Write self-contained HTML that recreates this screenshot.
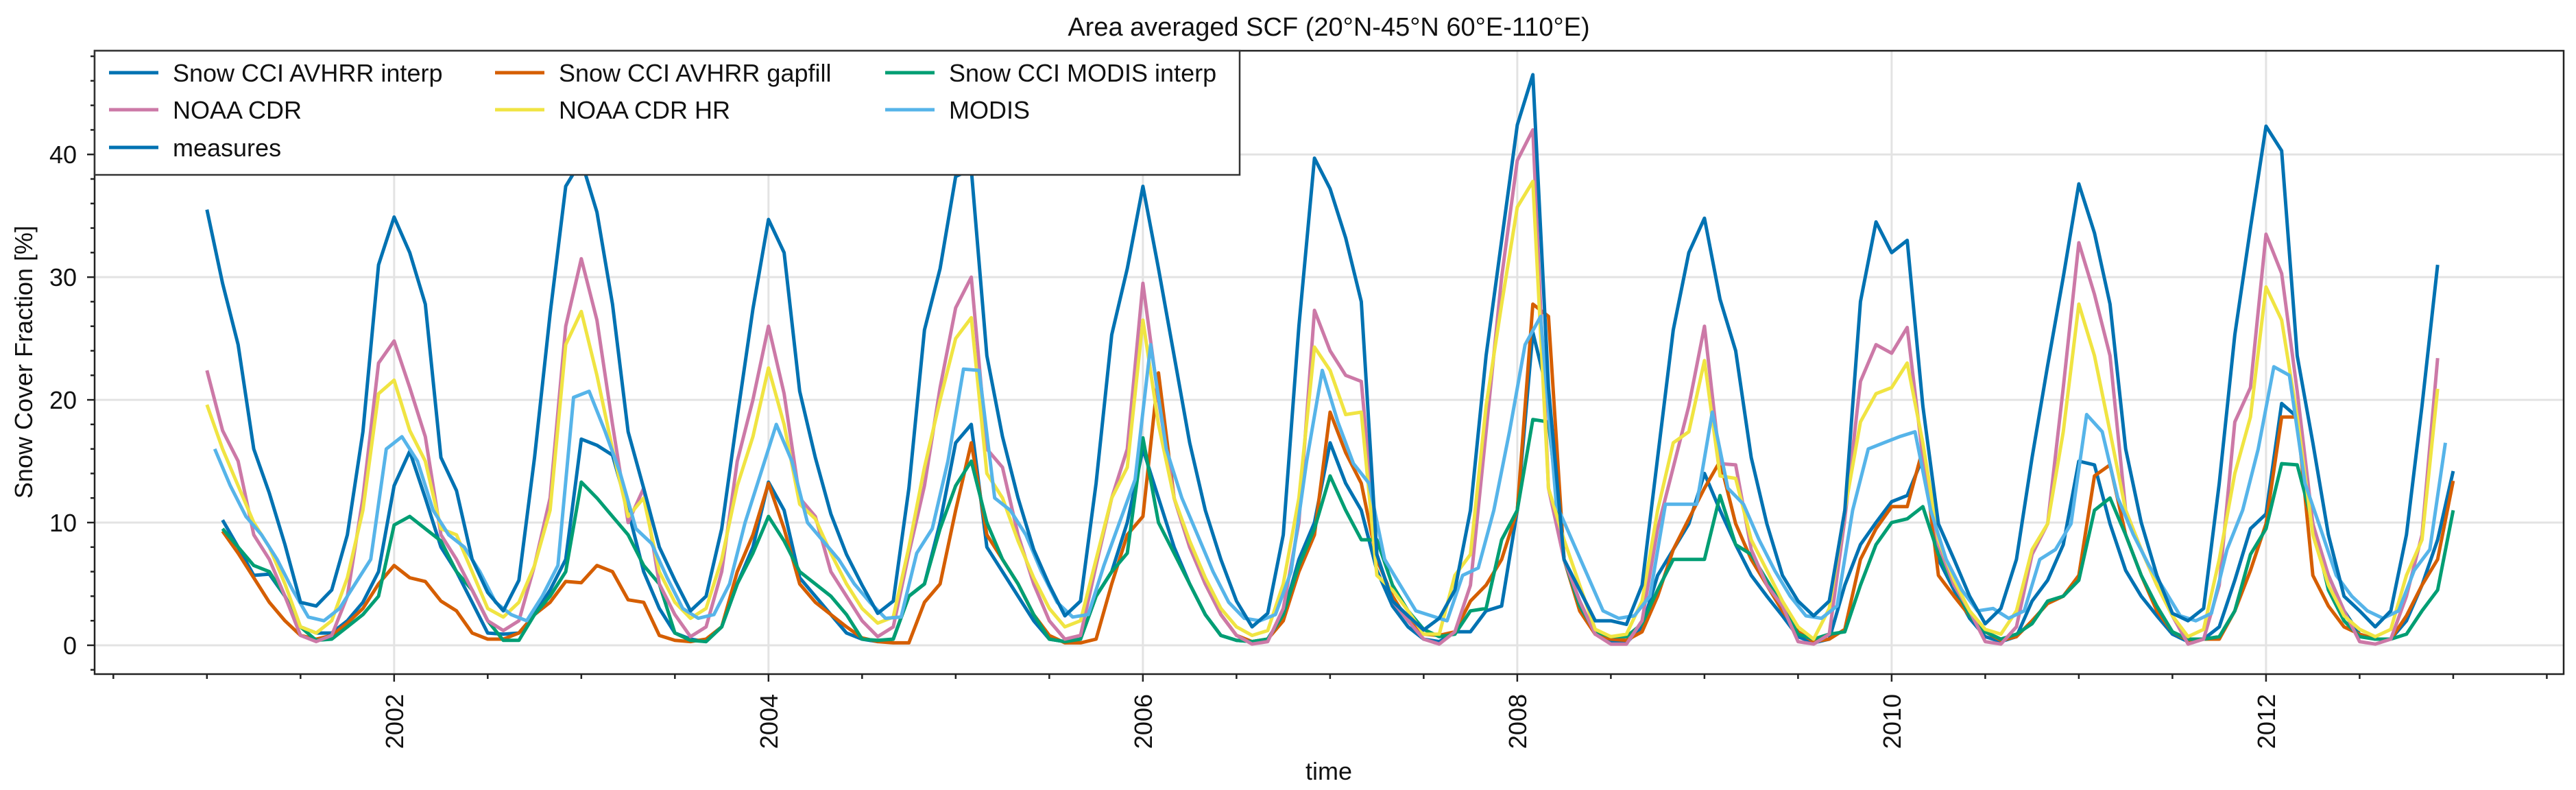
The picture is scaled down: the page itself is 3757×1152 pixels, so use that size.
<!DOCTYPE html>
<html><head><meta charset="utf-8"><style>
html,body{margin:0;padding:0;background:#fff}
svg{display:block;font-family:"Liberation Sans",sans-serif}
</style></head><body>
<svg id="chart" width="3757" height="1152" viewBox="0 0 3757 1152" xmlns="http://www.w3.org/2000/svg">
<rect width="3757" height="1152" fill="#fff"/>
<g id="grid"></g><g id="series"></g><g id="axes"></g><g id="legend"></g>
</svg>
<script>
const startYear = 2001;
const measures = [35.5,29.5,24.5,16,12.4,8.2,3.5,3.2,4.5,9,17.4,31,34.9,32,27.8,15.3,12.6,7,4.3,2.8,5.3,15.3,27,37.4,39.5,35.3,27.8,17.4,12.8,8,5.3,2.8,4,9.5,18.6,27.4,34.7,32,20.7,15.3,10.7,7.4,4.9,2.6,3.6,12.8,25.7,30.7,38.2,38.8,23.6,17,12,7.8,4.9,2.4,3.6,13.2,25.3,30.7,37.4,30.7,23.6,16.5,11,7,3.6,1.5,2.6,9,26,39.7,37.2,33.2,28,7.4,3.6,2.4,1.25,2.2,4.5,11,23.6,33,42.4,46.5,21,7,4.5,2,2,1.7,4.9,15.3,25.7,32,34.8,28.2,24,15.3,9.9,5.7,3.6,2.4,3.6,11,28,34.5,32,33,19.5,9.9,7,4,1.75,3,7,15.3,22.8,30,37.6,33.6,27.8,16,10,5.7,2.6,2,3,13.2,25.3,34,42.3,40.3,23.6,16.5,9,4,2.8,1.5,2.8,9,19.5,31];
const noaaCdr = [22.4,17.5,15,9,7,4,0.8,0.3,0.8,4,12,23,24.8,21,17,9,7,4.5,2,1.2,2,6.5,12,26,31.5,26.5,18,10,12.8,5,2.5,0.7,1.5,6,15,20,26,20.5,12,10.5,6,4,2,0.7,1.5,7.5,13,21,27.5,30,16,14.5,9,5,2,0.5,0.8,6.5,12,16,29.5,20,12,8,5,2.5,0.8,0.1,0.3,3,10,27.3,24,22,21.5,7.4,3.6,2,0.5,0.1,1.1,4.9,17.4,30,39.5,42,12.8,7,3.6,0.9,0.1,0.1,2,9.5,14.5,19.5,26,14.8,14.7,7.8,4.9,3.2,0.3,0.1,0.9,10.3,21.5,24.5,23.8,25.9,15.3,8.2,4.9,2.8,0.3,0.1,1.5,7.4,9.9,21,32.8,28.6,23.6,11,7.8,4.9,2.4,0.1,0.5,4.9,18.2,21,33.5,30.3,20.7,9.9,5.7,2.8,0.3,0.1,0.5,4,9,23.4];
const noaaCdrHr = [19.6,16,13,10,8,5,1.5,1,2,5.5,11,20.5,21.6,17.5,15,9.5,9,6,3,2.3,3.5,6.5,11,24.5,27.2,22,16,10.5,12,6,3.5,2.2,3,7,13,17,22.6,18,11.5,10.3,7.5,5,3,1.8,2.3,8,14.5,20,25,26.7,14,12,8.5,5.5,3,1.5,2,7,12,14.5,26.5,18,12,8.5,5.5,3,1.5,0.8,1.2,5,12,24.3,22.4,18.8,19,5.7,4.5,2.8,0.9,0.9,5.7,7.4,19.5,27.8,35.7,37.8,12.8,8.6,4.9,1.3,0.7,0.9,3.6,11,16.5,17.4,23.2,13.8,13.6,8.6,6.1,3.6,1.5,0.5,3,11,18.2,20.5,21,23,16.5,8.6,5.3,2.8,1.3,0.9,2.8,7.8,9.9,17.4,27.8,23.6,17.4,11,7.8,4.9,2.4,0.7,1.3,7,14,18.6,29.2,26.5,18.6,9,4.9,2.4,1.3,0.7,1.3,5.7,8.6,20.9];
const modis = [16,13,10.5,9,7,4.5,2.3,2,3,5,7,16,17,15,11,9,8,6,3.5,2.5,2,4,6.5,20.2,20.7,17.5,14,9.5,8.3,5.5,3,2.2,2.5,5,10,14,18,15,10,8.5,7,5,3.5,2.2,2.3,7.5,9.5,15,22.5,22.4,12,11,9,6,3.5,2.3,2.5,6.5,10,13.5,24.5,16,12,9,6,3.5,2.2,2,2.5,6,15,22.4,18.2,14.8,13.2,7,4.9,2.8,2.4,2,5.7,6.3,11,17.4,24.5,26.8,11.5,8.6,5.7,2.8,2.2,2.4,4,11.5,11.5,11.5,19,12.8,11.5,8.6,6.1,4,2.4,2.2,3.2,11,16,16.5,17,17.4,11,7,4.5,2.8,3,2.2,2.8,7,7.8,9.9,18.8,17.4,12,9,6.5,4.5,2.4,2,2.6,7.8,11,16,22.7,22,13.2,9.5,5.7,4,2.8,2.2,2.8,6.1,7.8,16.5];
const cciAvhrrInterp = [10.2,8,5.7,5.8,4,1.5,1,1,2,3.5,6,13,15.8,12,8,6,3.5,1,0.9,1,2.5,4.5,7,16.8,16.3,15.5,11,6,3,1,0.5,0.3,1.5,5,8,13.3,11,5.5,4,2.5,1,0.5,0.3,0.5,4,5,10,16.5,18,8,6,4,2,0.5,0.3,0.5,4,6,10,16,12,8,5,2.5,0.8,0.4,0.3,0.5,2.5,7,10,16.5,13.2,11,6.1,3.2,1.5,0.5,0.3,1.1,1.1,2.8,3.2,11,25.5,20.3,7,3.6,0.9,0.3,0.2,1.5,5.7,7.8,9.9,14,11,8.2,5.7,4,2.4,0.7,0.2,0.5,4.9,8.2,10,11.7,12.2,15.3,7,4.5,2.2,0.7,0.3,0.7,3.6,5.3,8.2,15,14.7,9.9,6.1,4,2.4,0.9,0.3,0.5,1.5,5.3,9.5,10.7,19.7,18.6,9.5,5.7,2.8,0.9,0.5,0.5,2,4.9,8.6,14.2];
const cciAvhrrGapfill = [9.3,7.5,5.5,3.5,2,0.8,0.5,0.8,1.8,3,5,6.5,5.5,5.2,3.6,2.8,1,0.5,0.5,1,2.5,3.5,5.2,5.1,6.5,6,3.7,3.5,0.8,0.4,0.3,0.5,1.5,6,9,13.2,9.5,5,3.5,2.5,1.5,0.6,0.3,0.2,0.2,3.5,5,11,16.5,9,7,5,2.5,0.8,0.2,0.2,0.5,5,9,10.5,22.2,12,8,5,2.5,0.8,0.3,0.5,2,6,9,19,15.7,13.2,7,4,2,0.9,0.8,1.1,3.6,4.9,7,11,27.8,26.8,7,2.8,0.9,0.5,0.4,1.1,4,7.8,10.3,12.8,15,9.9,7,4.9,2.8,1.1,0.3,0.5,1.3,7,9.5,11.3,11.3,16,5.7,4,2.4,1.1,0.4,0.7,2,3.4,4,5.7,13.8,14.7,9,5.7,2.8,1.1,0.4,0.5,0.5,2.8,6.1,9.9,18.6,18.6,5.7,3.2,1.5,0.9,0.5,0.5,2.4,4.9,7,13.4];
const cciModisInterp = [9.5,8,6.5,6,4,1.5,0.4,0.5,1.5,2.5,4,9.8,10.5,9.5,8.5,6,4.5,2,0.4,0.4,2.5,4,6,13.3,12,10.5,9,6.5,5,1,0.4,0.3,1.5,5,7.5,10.5,8.5,6,5,4,2.5,0.5,0.4,0.5,4,5,9.5,13,15,10,7,5,2.5,0.5,0.3,0.5,4,6,7.5,16.9,10,7.5,5,2.5,0.8,0.4,0.3,0.5,2.5,6.5,9.5,13.8,11,8.6,8.6,4.9,2.8,1.3,0.7,0.9,2.8,3,8.6,11,18.4,18.2,7,3.2,1.1,0.7,0.7,1.75,4.5,7,7,7,12.2,8.2,7.4,5.3,3.2,0.9,0.5,0.9,1.1,4.9,8.2,10,10.3,11.3,7.4,4.9,2.4,1.1,0.5,0.9,1.75,3.6,4,5.3,11,12,9,5.7,3.2,1.1,0.5,0.5,0.7,2.8,7.4,9.5,14.8,14.7,9.9,4.5,2,0.7,0.5,0.5,0.9,2.8,4.5,11];
const yTicks = [0,10,20,30,40];
const xTickYears = [2002,2004,2006,2008,2010,2012];

const L=138,R=3739,T=74,B=983;
const X0=2000.4, X1=2013.59, Y0=-2.35, Y1=48.45;
const xs = t => L + (t-X0)/(X1-X0)*(R-L);
const ys = v => B - (v-Y0)/(Y1-Y0)*(B-T);
const NS="http://www.w3.org/2000/svg";
function mk(tag, attrs, parent){const e=document.createElementNS(NS,tag);for(const k in attrs)e.setAttribute(k,attrs[k]);parent.appendChild(e);return e;}
const grid=document.getElementById('grid'),ser=document.getElementById('series'),ax=document.getElementById('axes'),leg=document.getElementById('legend');

yTicks.forEach(v=>{const g=mk('line',{x1:L,x2:R,y1:ys(v),y2:ys(v),stroke:'#e3e3e3','stroke-width':3},grid);

});
xTickYears.forEach(yr=>{const g=mk('line',{x1:xs(yr),x2:xs(yr),y1:T,y2:B,stroke:'#e3e3e3','stroke-width':3},grid);

});

const seriesDefs=[
 ['series-snow-cci-avhrr-interp',cciAvhrrInterp,1,'#0072B2'],
 ['series-snow-cci-avhrr-gapfill',cciAvhrrGapfill,1,'#D55E00'],
 ['series-snow-cci-modis-interp',cciModisInterp,1,'#009E73'],
 ['series-noaa-cdr',noaaCdr,0,'#CC79A7'],
 ['series-noaa-cdr-hr',noaaCdrHr,0,'#F0E442'],
 ['series-modis',modis,0.5,'#56B4E9'],
 ['series-measures',measures,0,'#0072B2']];
seriesDefs.forEach(([name,arr,off,col])=>{
 const pts=arr.map((v,i)=>xs(startYear+(i+off)/12).toFixed(1)+','+ys(v).toFixed(1)).join(' ');
 const p=mk('polyline',{points:pts,fill:'none',stroke:col,'stroke-width':5,'stroke-linejoin':'round'},ser);
 
 
});

// frame
const fr=mk('rect',{x:L,y:T,width:R-L,height:B-T,fill:'none',stroke:'#222','stroke-width':2.5},ax);


// y ticks
for(let v=-2;v<=48;v+=2){const major=v%10===0;
 const t=mk('line',{x1:L,x2:L-(major?11:6),y1:ys(v),y2:ys(v),stroke:'#222','stroke-width':2.5},ax);
 
 }
yTicks.forEach(v=>{const t=mk('text',{x:112,y:ys(v)+13,'text-anchor':'end','font-size':36,fill:'#111'},ax);t.textContent=v;
 
 });
// x ticks
for(let t2=2000.5;t2<=X1;t2+=0.5){const major=Math.abs(t2-Math.round(t2))<1e-6&&Math.round(t2)%2===0;
 const t=mk('line',{x1:xs(t2),x2:xs(t2),y1:B,y2:B+(major?11:7),stroke:'#222','stroke-width':2.5},ax);
 
 }
xTickYears.forEach(yr=>{const x=xs(yr)+13;const t=mk('text',{x:x,y:1012,'text-anchor':'end','font-size':36,fill:'#111',transform:`rotate(-90 ${x} 1012)`},ax);t.textContent=yr;
 
 });
</script>
<script>
(function(){
const NS="http://www.w3.org/2000/svg";const svg=document.getElementById('chart');const leg=document.getElementById('legend');
function mk(tag,a,p){const e=document.createElementNS(NS,tag);for(const k in a)e.setAttribute(k,a[k]);p.appendChild(e);return e;}
const box=mk('rect',{x:138,y:74,width:1670,height:181,fill:'#fff',stroke:'#333','stroke-width':2.5},leg);


const items=[['Snow CCI AVHRR interp','#0072B2',159,106],['NOAA CDR','#CC79A7',159,160],['measures','#0072B2',159,215],
['Snow CCI AVHRR gapfill','#D55E00',722,106],['NOAA CDR HR','#F0E442',722,160],
['Snow CCI MODIS interp','#009E73',1291,106],['MODIS','#56B4E9',1291,160]];
items.forEach(([lab,col,x,y])=>{
 const g=mk('g',{},leg);
 
 
 mk('line',{x1:x,x2:x+72,y1:y,y2:y,stroke:col,'stroke-width':5},g);
 const t=mk('text',{x:x+93,y:y+13,'font-size':36,fill:'#111'},g);t.textContent=lab;
});
const title=mk('text',{x:1938,y:52,'text-anchor':'middle','font-size':38,fill:'#111'},svg);
title.textContent='Area averaged SCF (20°N-45°N 60°E-110°E)';


const yl=mk('text',{x:47,y:528,'text-anchor':'middle','font-size':36,fill:'#111',transform:'rotate(-90 47 528)'},svg);
yl.textContent='Snow Cover Fraction [%]';


const xl=mk('text',{x:1938,y:1137,'text-anchor':'middle','font-size':36,fill:'#111'},svg);
xl.textContent='time';


})();
</script>
</body></html>
